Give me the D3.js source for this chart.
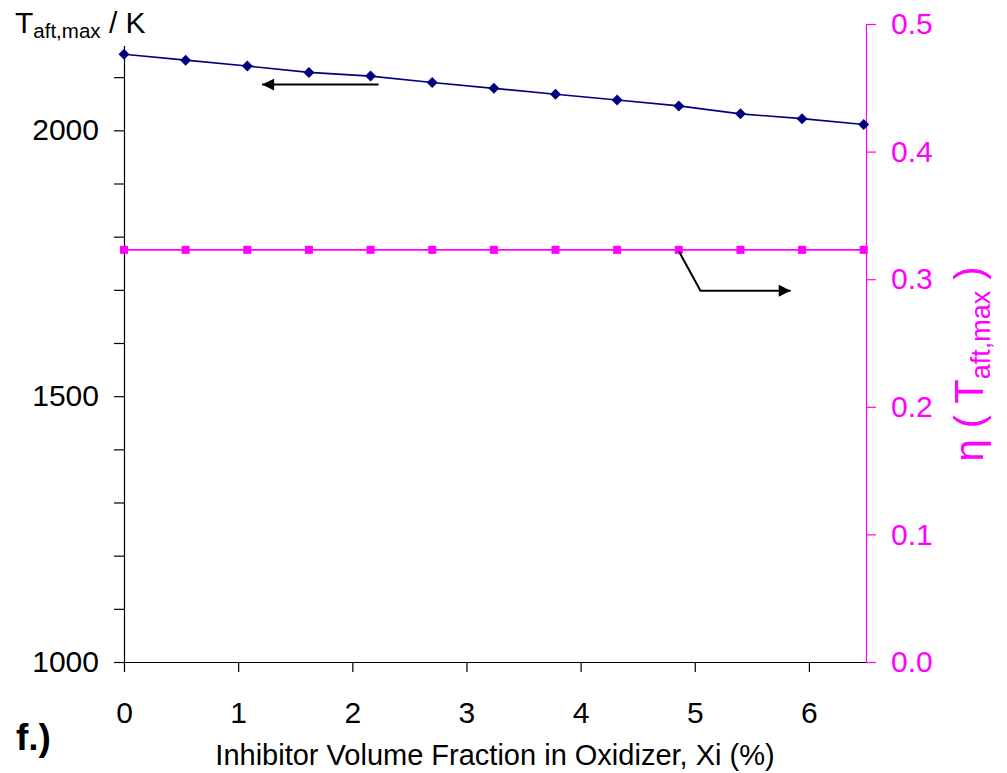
<!DOCTYPE html>
<html>
<head>
<meta charset="utf-8">
<script src="https://cdn.jsdelivr.net/npm/d3@7"></script>
<style>
  body { margin: 0; background: #fff; }
  text { font-family: "Liberation Sans", Arial, sans-serif; }
</style>
</head>
<body>
<svg id="chart" width="1007" height="773"></svg>
<script>
// data
const xVals = [0, 0.54, 1.08, 1.62, 2.16, 2.7, 3.24, 3.78, 4.32, 4.86, 5.4, 5.94, 6.48];
const tAftMax = [2143, 2132, 2121, 2109, 2102, 2090, 2079, 2068, 2057, 2046, 2031, 2022, 2011];
const etaVals = [0.323, 0.323, 0.323, 0.323, 0.323, 0.323, 0.323, 0.323, 0.323, 0.323, 0.323, 0.323, 0.323];
const xTicks = [0, 1, 2, 3, 4, 5, 6];
const leftLabels = [1000, 1500, 2000];
const leftTicks = d3.range(1000, 2201, 100);
const rightTicks = [0, 0.1, 0.2, 0.3, 0.4, 0.5];

const PINK = '#ff00ff';
const NAVY = '#000080';

const svg = d3.select('#chart');
const plotL = 124, plotR = 866, plotT = 24, plotB = 662;

const x = d3.scaleLinear().domain([0, 6.5]).range([plotL, plotR]);
const yL = d3.scaleLinear().domain([1000, 2200]).range([plotB, plotT]);
const yR = d3.scaleLinear().domain([0, 0.5]).range([plotB, plotT]);

// x axis
const gx = svg.append('g')
    .attr('transform', `translate(0,${plotB})`)
    .call(d3.axisBottom(x).tickValues(xTicks).tickSize(10).tickSizeOuter(0).tickPadding(30)
        .tickFormat(d3.format('d')));
gx.selectAll('text').attr('font-size', 30).attr('fill', '#000');

// left axis
const gl = svg.append('g')
    .attr('transform', `translate(${plotL},0)`)
    .call(d3.axisLeft(yL).tickValues(leftTicks).tickSize(10).tickSizeOuter(0).tickPadding(15)
        .tickFormat(d => leftLabels.includes(d) ? d : ''));
gl.selectAll('text').attr('font-size', 30).attr('fill', '#000');

// right axis
const gr = svg.append('g')
    .attr('transform', `translate(${plotR},0)`)
    .call(d3.axisRight(yR).tickValues(rightTicks).tickSize(10).tickSizeOuter(0).tickPadding(15)
        .tickFormat(d3.format('.1f')));
gr.select('.domain').attr('stroke', PINK);
gr.selectAll('line').attr('stroke', PINK);
gr.selectAll('text').attr('font-size', 30).attr('fill', PINK);

svg.selectAll('.domain, .tick line').attr('stroke-width', 1.2);

// left axis title, with white box that covers the top of the axis
svg.append('rect').attr('x', 0).attr('y', 0).attr('width', 160).attr('height', 46).attr('fill', '#fff');
const lt = svg.append('text').attr('x', 15).attr('y', 33).attr('font-size', 30).attr('fill', '#000');
lt.append('tspan').text('T');
lt.append('tspan').attr('font-size', 20.5).attr('dy', 5).text('aft,max');
lt.append('tspan').attr('dy', -5).text(' / K');

// right axis title
const rt = svg.append('text')
    .attr('transform', 'translate(983,364) rotate(-90)')
    .attr('text-anchor', 'middle')
    .attr('font-size', 40)
    .attr('fill', PINK)
    .style('white-space', 'pre');
rt.append('tspan').text('\u03b7 ( T');
rt.append('tspan').attr('font-size', 27).attr('dy', 7).text('aft,max');
rt.append('tspan').attr('dy', -7).text(' )');

// x axis title and panel tag
svg.append('text').attr('x', (plotL + plotR) / 2).attr('y', 765)
    .attr('text-anchor', 'middle').attr('font-size', 29).text('Inhibitor Volume Fraction in Oxidizer, Xi (%)');
svg.append('text').attr('x', 16).attr('y', 750)
    .attr('font-size', 37).attr('font-weight', 'bold').text('f.)');

// series
const lineT = d3.line().x((d, i) => x(xVals[i])).y(d => yL(d));
const lineE = d3.line().x((d, i) => x(xVals[i])).y(d => yR(d));

svg.append('path').datum(etaVals).attr('d', lineE)
    .attr('fill', 'none').attr('stroke', PINK).attr('stroke-width', 1.6);
svg.selectAll('.sq').data(etaVals).join('rect').attr('class', 'sq')
    .attr('x', (d, i) => x(xVals[i]) - 4).attr('y', d => yR(d) - 4)
    .attr('width', 8).attr('height', 8).attr('fill', PINK);

svg.append('path').datum(tAftMax).attr('d', lineT)
    .attr('fill', 'none').attr('stroke', NAVY).attr('stroke-width', 1.6);
svg.selectAll('.dm').data(tAftMax).join('path').attr('class', 'dm')
    .attr('transform', (d, i) => `translate(${x(xVals[i])},${yL(d)})`)
    .attr('d', 'M0,-5.5L5.5,0L0,5.5L-5.5,0Z').attr('fill', NAVY);

// arrows pointing to the axes
const defs = svg.append('defs');
defs.append('marker').attr('id', 'head')
    .attr('viewBox', '0 0 10 10').attr('refX', 10).attr('refY', 5)
    .attr('markerWidth', 13).attr('markerHeight', 12).attr('markerUnits', 'userSpaceOnUse')
    .attr('orient', 'auto')
    .append('path').attr('d', 'M0,0L10,5L0,10Z').attr('fill', '#000');

svg.append('polyline')
    .attr('points', `${x(2.23)},${yL(2086)} ${x(1.21)},${yL(2086)}`)
    .attr('fill', 'none').attr('stroke', '#000').attr('stroke-width', 2)
    .attr('marker-end', 'url(#head)');

svg.append('polyline')
    .attr('points', `${x(4.86)},${yR(0.322)} ${x(5.05)},${yR(0.291)} ${x(5.84)},${yR(0.291)}`)
    .attr('fill', 'none').attr('stroke', '#000').attr('stroke-width', 2)
    .attr('marker-end', 'url(#head)');
</script>
</body>
</html>
